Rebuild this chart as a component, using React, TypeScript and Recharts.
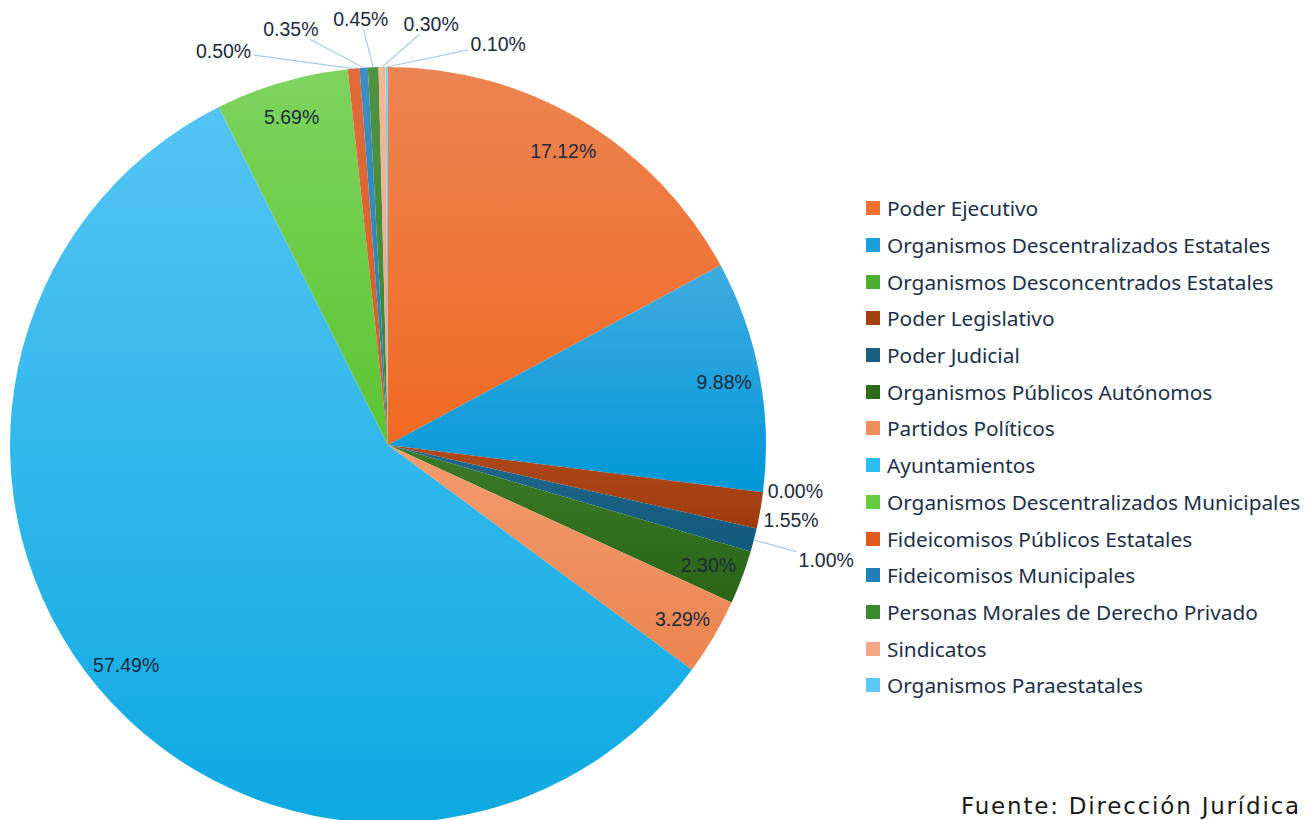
import { PieChart, Pie, Cell } from 'recharts';

// --- data ---
const categories = [
  'Poder Ejecutivo',
  'Organismos Descentralizados Estatales',
  'Organismos Desconcentrados Estatales',
  'Poder Legislativo',
  'Poder Judicial',
  'Organismos Públicos Autónomos',
  'Partidos Políticos',
  'Ayuntamientos',
  'Organismos Descentralizados Municipales',
  'Fideicomisos Públicos Estatales',
  'Fideicomisos Municipales',
  'Personas Morales de Derecho Privado',
  'Sindicatos',
  'Organismos Paraestatales',
];
const shares = [17.12, 9.88, 0.0, 1.55, 1.0, 2.3, 3.29, 57.49, 5.69, 0.5, 0.35, 0.45, 0.3, 0.1];
const sourceNote = 'Fuente: Dirección Jurídica';

// --- styles ---
const topColors = ['#EC8452', '#40ABE0', '#5DB83E', '#B04A1E', '#23688C', '#3B7B28', '#F39C6E', '#54C5F4', '#7ED45F', '#E26A3C', '#3C8FC2', '#4F9342', '#F6B698', '#7ED3F6'];
const baseColors = ['#F06A22', '#0098D8', '#42A82A', '#9E3A0C', '#105A7C', '#2A6418', '#EC8450', '#0EA9E2', '#5CC532', '#D85A1E', '#1F7FB7', '#3D842E', '#F2A27E', '#5CC5F2'];
const legendColors = ['#F07030', '#1A9FDD', '#4CAF30', '#A0400F', '#1A5F80', '#2E6B1A', '#F08E5C', '#2CBFF5', '#66CC3F', '#E05A20', '#2080B8', '#3E8A2E', '#F4A888', '#5CC8F5'];

const W = 1315;
const H = 820;
const CX = 388;
const CY = 445;
const R = 378;
const textColor = '#1c2a3c';
const lineColor = '#a9cbe8';

const data = categories.map((name, i) => ({ name, value: shares[i] }));

// label layout: small slices get outside labels, spread apart so they don't collide
const total = shares.reduce((a, b) => a + b, 0);
const mids: number[] = [];
{
  let acc = 0;
  shares.forEach((v) => {
    let m = ((acc + v / 2) / total) * 360;
    if (m > 180) m -= 360;
    mids.push(m);
    acc += v;
  });
}
const isOutside = shares.map((v) => v < 2);
const labelAngle = [...mids];
const labelRadius = shares.map(() => R * 0.905);
const withLine = shares.map(() => false);
const pushedOut = new Set([4]); // label dragged further out, like the original

{
  let i = 0;
  while (i < shares.length) {
    if (!isOutside[i]) { i++; continue; }
    const group: number[] = [];
    while (i < shares.length && isOutside[i]) group.push(i++);
    const mean = group.reduce((s, k) => s + mids[k], 0) / group.length;
    const nearTop = Math.abs(mean) < 45;
    const gap = nearTop ? 9.5 : 4.1;
    const a = group.map((k) => mids[k]);
    for (let j = 1; j < a.length; j++) if (a[j] - a[j - 1] < gap) a[j] = a[j - 1] + gap;
    const shift = a.reduce((s, x) => s + x, 0) / a.length - mean + (nearTop ? 1.2 : 0);
    group.forEach((k, j) => {
      labelAngle[k] = a[j] - shift;
      // top labels sit a little lower towards the right
      labelRadius[k] = nearTop ? R + 49 - Math.max(0, labelAngle[k]) * 0.7 : R + (pushedOut.has(k) ? 75 : 32);
      withLine[k] = nearTop || pushedOut.has(k);
    });
  }
}

const polar = (cx: number, cy: number, r: number, deg: number) => {
  const rad = (deg * Math.PI) / 180;
  return { x: cx + r * Math.sin(rad), y: cy - r * Math.cos(rad) };
};

const renderLabel = (props: any) => {
  const { cx, cy, outerRadius, index } = props;
  const p = polar(cx, cy, labelRadius[index] * (outerRadius / R), labelAngle[index]);
  const text = `${shares[index].toFixed(2)}%`;
  let line = null;
  if (withLine[index]) {
    const s = polar(cx, cy, outerRadius, mids[index]);
    const hw = 30;
    const hh = 10;
    const dx = s.x - p.x;
    const dy = s.y - p.y;
    const t = Math.min(Math.abs(dx) > 0 ? hw / Math.abs(dx) : 1e9, Math.abs(dy) > 0 ? hh / Math.abs(dy) : 1e9);
    const e = { x: p.x + dx * t, y: p.y + dy * t };
    line = <line x1={s.x} y1={s.y} x2={e.x} y2={e.y} stroke={lineColor} strokeWidth={1.2} />;
  }
  return (
    <g key={`lbl-${index}`}>
      {line}
      <text
        x={p.x}
        y={p.y}
        textAnchor="middle"
        dominantBaseline="central"
        fill={textColor}
        fontFamily="'Liberation Sans', Arial, sans-serif"
        fontSize={19.5}
      >
        {text}
      </text>
    </g>
  );
};

export default function App() {
  return (
    <div style={{ position: 'absolute', left: 0, top: 0, width: W, height: H, background: '#fff', overflow: 'hidden' }}>
      <PieChart width={W} height={H} margin={{ top: 0, right: 0, bottom: 0, left: 0 }}>
        <defs>
          {baseColors.map((c, i) => (
            <linearGradient key={i} id={`slice-${i}`} x1="0" y1="0" x2="0" y2="1">
              <stop offset="0%" stopColor={topColors[i]} />
              <stop offset="100%" stopColor={c} />
            </linearGradient>
          ))}
        </defs>
        <Pie
          data={data}
          dataKey="value"
          nameKey="name"
          cx={CX}
          cy={CY}
          outerRadius={R}
          startAngle={90}
          endAngle={-270}
          stroke="none"
          label={renderLabel}
          labelLine={false}
          isAnimationActive={false}
        >
          {data.map((d, i) => (
            <Cell key={d.name} fill={`url(#slice-${i})`} />
          ))}
        </Pie>
      </PieChart>

      <div style={{ position: 'absolute', left: 866, top: 190 }}>
        {categories.map((name, i) => (
          <div key={name} style={{ display: 'flex', alignItems: 'center', height: 36.7 }}>
            <span style={{ width: 14, height: 14, background: legendColors[i], display: 'inline-block', marginRight: 7 }} />
            <span style={{ fontFamily: "'Noto Sans', sans-serif", fontSize: 20.8, color: '#1c3048', whiteSpace: 'nowrap' }}>{name}</span>
          </div>
        ))}
      </div>

      <div
        style={{
          position: 'absolute',
          right: 14,
          top: 794,
          height: 25,
          lineHeight: '25px',
          fontFamily: "'DejaVu Sans', sans-serif",
          fontSize: 23,
          letterSpacing: 1.8,
          color: '#1a1a1a',
          whiteSpace: 'nowrap',
        }}
      >
        {sourceNote}
      </div>
    </div>
  );
}
